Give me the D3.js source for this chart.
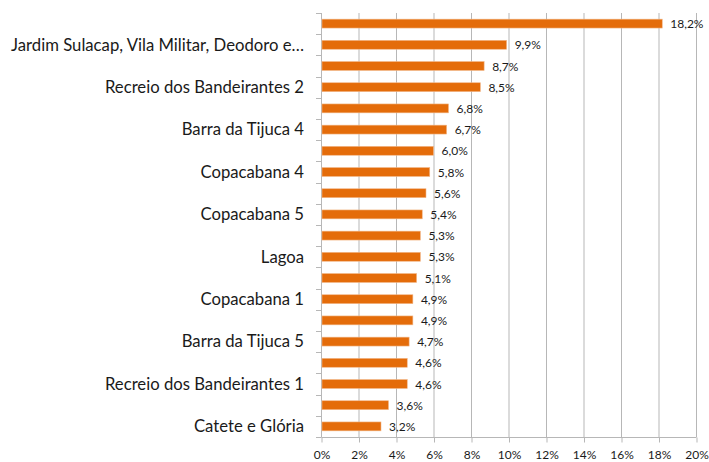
<!DOCTYPE html>
<html lang="pt">
<head>
<meta charset="utf-8">
<title>Bairros</title>
<style type="text/css">
  body { margin: 0; background: #fff; }
  text { font-family: Lato, "Open Sans", sans-serif; fill: #1a1a1a; }
</style>
</head>
<body>
<script src="https://d3js.org/d3.v7.min.js"></script>
<script>

    // rotulos visiveis no grafico original (os vazios nao aparecem)
    var categories = ["", "Jardim Sulacap, Vila Militar, Deodoro e\u2026", "", "Recreio dos Bandeirantes 2",
        "", "Barra da Tijuca 4", "", "Copacabana 4", "", "Copacabana 5",
        "", "Lagoa", "", "Copacabana 1", "", "Barra da Tijuca 5",
        "", "Recreio dos Bandeirantes 1", "", "Catete e Glória"];
    var values = [18.2, 9.9, 8.7, 8.5, 6.8, 6.7, 6.0, 5.8, 5.6, 5.4,
        5.3, 5.3, 5.1, 4.9, 4.9, 4.7, 4.6, 4.6, 3.6, 3.2];
    var xTicks = [0, 2, 4, 6, 8, 10, 12, 14, 16, 18, 20];

    var margin = {top: 13, left: 321};

    var svg = d3.select("body").append("svg")
        .attr("width", 709)
        .attr("height", 462);

    var g = svg.append("g")
        .attr("transform", "translate(" + margin.left + "," + margin.top + ")");

    var xScale = d3.scaleLinear()
        .domain([0, 20])
        .range([0, 375]);

    var yScale = d3.scaleBand()
        .domain(d3.range(values.length))
        .range([0, 424])
        .paddingInner(0.58)
        .paddingOuter(0.29);

    var gridColor = "#b7b7b7";

    // grade vertical
    g.selectAll("line.grid")
        .data(xTicks.slice(1))
        .enter()
        .append("line")
        .attr("class", "grid")
        .attr("x1", function(d){ return xScale(d) + 0.5; })
        .attr("x2", function(d){ return xScale(d) + 0.5; })
        .attr("y1", 0)
        .attr("y2", 424)
        .attr("stroke", gridColor)
        .attr("stroke-width", 1);

    // eixo x
    var xAxis = d3.axisBottom(xScale)
        .tickValues(xTicks)
        .tickSize(5)
        .tickFormat(function(d){ return d + "%"; });
    var xAxisGroup = g.append("g")
        .attr("transform", "translate(0.5,424.5)")
        .call(xAxis);
    xAxisGroup.select(".domain").attr("stroke", gridColor).attr("d", "M0,0H375");
    xAxisGroup.selectAll(".tick line").attr("stroke", gridColor);
    xAxisGroup.selectAll(".tick text")
        .attr("dy", "0")
        .attr("y", 21)
        .style("font-size", "12px");

    // eixo y: marcas nas divisoes das categorias
    var bounds = d3.range(values.length + 1).map(function(i){ return i * 424 / values.length; });
    g.append("line")
        .attr("x1", 0.5).attr("x2", 0.5)
        .attr("y1", 0).attr("y2", 424)
        .attr("stroke", gridColor);
    g.selectAll("line.ytick")
        .data(bounds)
        .enter()
        .append("line")
        .attr("class", "ytick")
        .attr("x1", -5).attr("x2", 0.5)
        .attr("y1", function(d){ return Math.round(d) + 0.5; })
        .attr("y2", function(d){ return Math.round(d) + 0.5; })
        .attr("stroke", gridColor);

    g.selectAll("text.cat")
        .data(categories)
        .enter()
        .append("text")
        .attr("class", "cat")
        .attr("x", -17)
        .attr("y", function(d, i){ return yScale(i) + yScale.bandwidth() / 2; })
        .attr("dy", "0.35em")
        .attr("text-anchor", "end")
        .style("font-size", "16.7px")
        .text(function(d){ return d; });

    // barras
    g.selectAll("rect.bar")
        .data(values)
        .enter()
        .append("rect")
        .attr("class", "bar")
        .attr("x", 1)
        .attr("y", function(d, i){ return yScale(i); })
        .attr("width", function(d){ return xScale(d) - 1; })
        .attr("height", yScale.bandwidth())
        .attr("fill", "#e46c0a")
        .attr("stroke", "#f2b88a")
        .attr("stroke-width", 0.6);

    g.selectAll("text.val")
        .data(values)
        .enter()
        .append("text")
        .attr("class", "val")
        .attr("x", function(d){ return xScale(d) + 8; })
        .attr("y", function(d, i){ return yScale(i) + yScale.bandwidth() / 2; })
        .attr("dy", "0.38em")
        .style("font-size", "12px")
        .text(function(d){ return d.toFixed(1).replace(".", ",") + "%"; });

</script>
</body>
</html>
